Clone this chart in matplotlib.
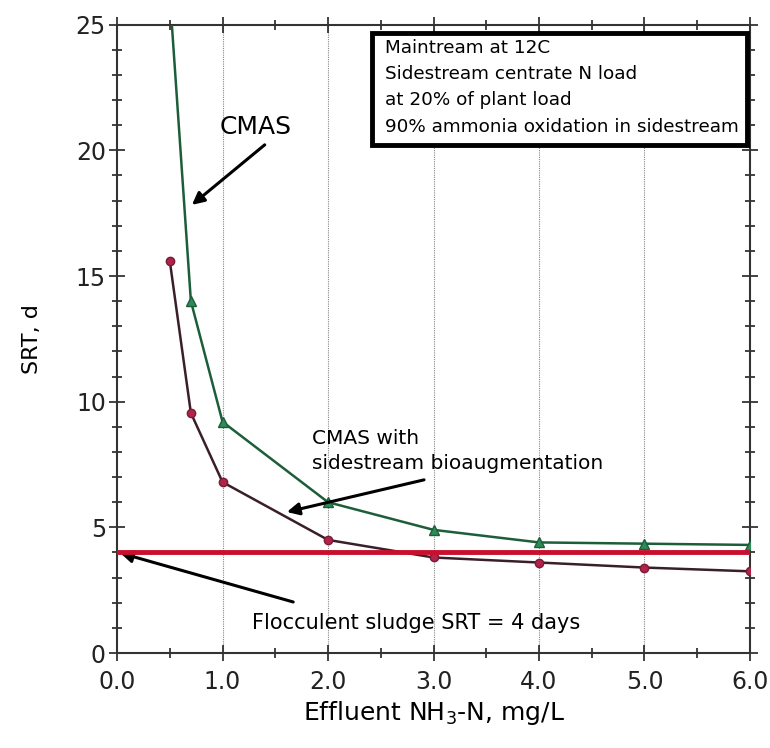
import numpy as np
import matplotlib
matplotlib.use("Agg")
import matplotlib.pyplot as plt
from matplotlib.ticker import MultipleLocator
from matplotlib.patches import Rectangle

# Data
nh3_cmas = [0.5, 0.7, 1.0, 2.0, 3.0, 4.0, 5.0, 6.0]
srt_cmas = [26.2, 14.0, 9.2, 6.0, 4.9, 4.4, 4.35, 4.3]

nh3_bio = [0.5, 0.7, 1.0, 2.0, 3.0, 4.0, 5.0, 6.0]
srt_bio = [15.6, 9.55, 6.8, 4.5, 3.8, 3.6, 3.4, 3.25]

floc_srt = 4.0

box_lines = ["Maintream at 12C",
             "Sidestream centrate N load",
             "at 20% of plant load",
             "90% ammonia oxidation in sidestream"]

plt.rcParams['font.family'] = ['DejaVu Sans']

fig = plt.figure(figsize=(7.7, 7.48), dpi=100)
ax = fig.add_axes([0.152, 0.127, 0.822, 0.840])

# vertical grid only
for xv in range(1, 7):
    ax.axvline(xv, color='#888888', lw=0.8, ls=(0, (1, 1)), zorder=0)

ax.plot(nh3_cmas, srt_cmas, color='#1d5e3a', lw=1.8, marker='^', ms=7,
        markerfacecolor='#2e8b57', markeredgecolor='#1d5e3a', zorder=3)
ax.plot(nh3_bio, srt_bio, color='#3a1f2a', lw=1.8, marker='o', ms=6,
        markerfacecolor='#b0244a', markeredgecolor='#7a1a35', zorder=3)
ax.axhline(floc_srt, color='#c8102e', lw=3.5, zorder=4)

ax.set_xlim(0, 6)
ax.set_ylim(0, 25)
ax.xaxis.set_major_locator(MultipleLocator(1))
ax.xaxis.set_minor_locator(MultipleLocator(0.5))
ax.yaxis.set_major_locator(MultipleLocator(5))
ax.yaxis.set_minor_locator(MultipleLocator(1))
ax.xaxis.set_major_formatter(plt.FormatStrFormatter('%.1f'))
ax.tick_params(which='both', direction='inout', top=True, right=True,
               labelsize=17, width=1.2, colors='#222222')
ax.tick_params(which='major', length=12)
ax.tick_params(which='minor', length=7)
ax.tick_params(axis='x', which='major', pad=6)
ax.tick_params(axis='y', which='major', pad=2)
for s in ax.spines.values():
    s.set_linewidth(1.5)
    s.set_color('#333333')

ax.set_xlabel("Effluent NH$_3$-N, mg/L", fontsize=18, labelpad=4)
ax.set_ylabel("SRT, d", fontsize=16, labelpad=24)

arrow = dict(arrowstyle='-|>', color='black', lw=2.2, mutation_scale=18,
             shrinkA=0, shrinkB=0)
ax.text(1.31, 20.94, "CMAS", fontsize=18, ha='center', va='center')
ax.annotate("", xy=(0.71, 17.83), xytext=(1.40, 20.22), arrowprops=arrow)
ax.annotate("", xy=(1.61, 5.61), xytext=(2.91, 6.89), arrowprops=arrow)
ax.text(1.85, 8.04, "CMAS with\nsidestream bioaugmentation", fontsize=14.5,
        ha='left', va='center', linespacing=1.45)
ax.annotate("", xy=(0.03, 3.98), xytext=(1.67, 2.03), arrowprops=arrow)
ax.text(1.28, 1.19, "Flocculent sludge SRT = 4 days", fontsize=15,
        ha='left', va='center')

# note box
ax.add_patch(Rectangle((2.42, 20.22), 3.55, 4.46, facecolor='white',
                       edgecolor='black', linewidth=3.5, zorder=5))
for i, line in enumerate(box_lines):
    ax.text(2.54, 24.08 - i * 1.047, line, fontsize=13.2, ha='left',
            va='center', zorder=6)

fig.savefig("out.png", dpi=100)
